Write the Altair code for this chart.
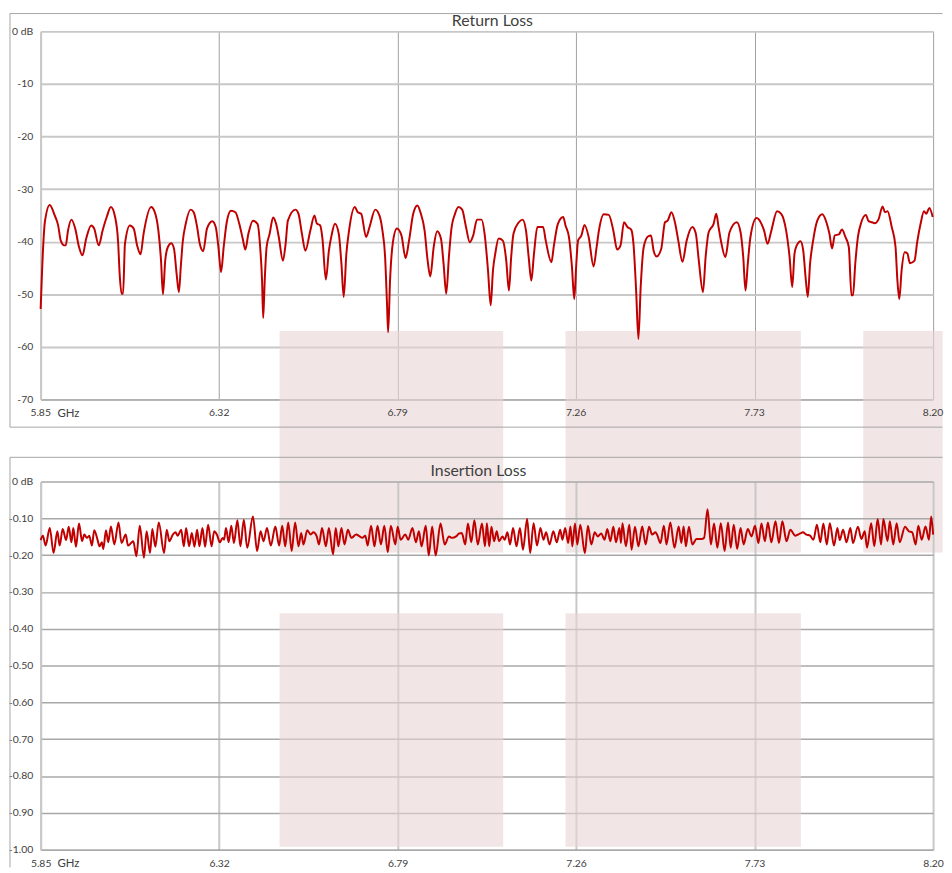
import altair as alt
import pandas as pd

# ---------------- data ----------------
x_ticks = [5.85, 6.32, 6.79, 7.26, 7.73, 8.20]
rl_ticks = [0, -10, -20, -30, -40, -50, -60, -70]
il_ticks = [0, -0.1, -0.2, -0.3, -0.4, -0.5, -0.6, -0.7, -0.8, -0.9, -1.0]

# Return loss (dB) vs frequency (GHz)
rl_ghz = [
    5.850, 5.857, 5.861, 5.874, 5.887, 5.896, 5.903, 5.912, 5.916, 5.922,
    5.931, 5.941, 5.951, 5.960, 5.970, 5.983, 5.991, 6.003, 6.013, 6.024,
    6.035, 6.046, 6.054, 6.058, 6.063, 6.067, 6.072, 6.085, 6.095, 6.104,
    6.113, 6.121, 6.141, 6.149, 6.160, 6.167, 6.172, 6.178, 6.185, 6.194,
    6.201, 6.208, 6.214, 6.219, 6.224, 6.232, 6.245, 6.253, 6.262, 6.269,
    6.278, 6.288, 6.302, 6.311, 6.318, 6.325, 6.332, 6.340, 6.351, 6.363,
    6.373, 6.382, 6.389, 6.397, 6.409, 6.421, 6.428, 6.433, 6.436, 6.440,
    6.445, 6.453, 6.462, 6.470, 6.477, 6.488, 6.495, 6.501, 6.521, 6.529,
    6.538, 6.547, 6.560, 6.571, 6.577, 6.586, 6.592, 6.601, 6.609, 6.616,
    6.625, 6.635, 6.642, 6.648, 6.655, 6.662, 6.677, 6.685, 6.694, 6.707,
    6.716, 6.731, 6.742, 6.750, 6.757, 6.762, 6.765, 6.770, 6.777, 6.788,
    6.800, 6.811, 6.820, 6.831, 6.842, 6.850, 6.861, 6.869, 6.876, 6.885,
    6.894, 6.904, 6.911, 6.918, 6.925, 6.931, 6.941, 6.950, 6.960, 6.970,
    6.980, 6.989, 6.999, 7.011, 7.019, 7.028, 7.035, 7.041, 7.047, 7.056,
    7.067, 7.076, 7.083, 7.089, 7.095, 7.108, 7.119, 7.128, 7.135, 7.142,
    7.149, 7.158, 7.173, 7.180, 7.195, 7.201, 7.212, 7.226, 7.232, 7.241,
    7.249, 7.255, 7.260, 7.265, 7.274, 7.282, 7.293, 7.306, 7.314, 7.320,
    7.333, 7.346, 7.358, 7.368, 7.377, 7.386, 7.395, 7.405, 7.411, 7.418,
    7.424, 7.430, 7.438, 7.449, 7.457, 7.464, 7.472, 7.484, 7.494, 7.501,
    7.511, 7.521, 7.529, 7.540, 7.551, 7.566, 7.575, 7.583, 7.594, 7.601,
    7.609, 7.622, 7.629, 7.635, 7.642, 7.653, 7.664, 7.683, 7.693, 7.700,
    7.706, 7.712, 7.719, 7.735, 7.748, 7.755, 7.764, 7.774, 7.789, 7.800,
    7.813, 7.822, 7.829, 7.835, 7.841, 7.851, 7.858, 7.865, 7.870, 7.876,
    7.884, 7.895, 7.908, 7.919, 7.927, 7.934, 7.941, 7.952, 7.960, 7.969,
    7.978, 7.985, 7.989, 7.995, 8.002, 8.011, 8.023, 8.030, 8.039, 8.046,
    8.056, 8.067, 8.073, 8.080, 8.091, 8.101, 8.106, 8.111, 8.117, 8.125,
    8.132, 8.139, 8.151, 8.158, 8.167, 8.176, 8.182, 8.190, 8.199,
]
rl_db = [
    -52.8, -40.4, -36.3, -33.0, -35.0, -36.9, -39.8, -40.7, -40.7, -37.9,
    -35.8, -37.5, -41.0, -42.6, -39.4, -36.9, -37.5, -40.7, -37.9, -35.3,
    -33.4, -35.3, -40.1, -46.1, -49.9, -49.9, -40.4, -36.9, -37.5, -40.7,
    -42.4, -38.5, -33.4, -34.1, -37.9, -43.6, -50.0, -43.6, -41.0, -40.3,
    -41.3, -46.1, -49.6, -44.8, -40.1, -36.6, -33.9, -34.4, -37.2, -40.4,
    -41.8, -37.5, -36.1, -37.2, -41.0, -45.8, -41.0, -36.3, -34.1, -34.4,
    -36.6, -39.4, -41.5, -38.5, -36.0, -36.6, -41.0, -47.4, -54.5, -47.4,
    -41.0, -38.5, -35.4, -36.6, -39.1, -43.6, -40.4, -36.0, -33.9, -34.7,
    -38.5, -41.7, -37.9, -35.0, -36.5, -36.9, -39.4, -47.2, -41.7, -38.8,
    -36.6, -38.5, -44.2, -50.5, -42.3, -37.9, -33.4, -34.4, -34.7, -39.1,
    -37.2, -33.9, -35.0, -37.9, -42.9, -51.8, -57.2, -47.4, -40.4, -37.5,
    -38.8, -43.1, -39.8, -34.7, -33.1, -34.4, -37.9, -43.6, -46.6, -41.0,
    -38.0, -39.4, -44.2, -49.9, -42.9, -37.9, -34.7, -33.4, -33.9, -37.2,
    -40.1, -38.8, -35.8, -35.8, -38.5, -45.5, -52.1, -45.5, -42.3, -39.4,
    -39.8, -43.6, -49.3, -42.9, -38.5, -36.4, -35.8, -37.9, -42.9, -47.4,
    -42.3, -37.2, -37.2, -39.8, -43.9, -41.0, -36.6, -35.3, -36.9, -39.1,
    -44.8, -50.9, -44.8, -39.8, -38.8, -36.8, -39.1, -44.7, -41.0, -37.9,
    -34.8, -34.9, -37.9, -41.5, -40.7, -36.3, -37.2, -37.7, -40.4, -49.3,
    -58.5, -48.6, -41.0, -39.0, -38.8, -41.7, -42.8, -41.4, -36.3, -36.0,
    -34.4, -36.6, -39.8, -43.8, -39.8, -37.2, -38.4, -43.6, -49.6, -42.9,
    -38.2, -36.6, -34.7, -37.2, -40.1, -42.9, -38.2, -36.3, -38.2, -42.9,
    -49.3, -44.2, -39.1, -35.5, -36.6, -37.9, -40.4, -37.9, -34.2, -34.7,
    -37.9, -42.9, -48.6, -42.3, -40.7, -39.9, -41.7, -47.4, -50.5, -44.2,
    -39.8, -36.0, -34.8, -36.3, -38.5, -41.3, -38.8, -38.6, -37.7, -39.1,
    -41.0, -50.2, -50.2, -44.2, -39.1, -36.3, -34.9, -36.1, -36.3, -36.5,
    -35.8, -33.3, -34.4, -34.2, -37.2, -41.0, -47.4, -50.9, -45.5, -42.0,
    -42.2, -44.1, -43.6, -40.1, -36.6, -34.2, -34.7, -33.6, -35.3,
]

# Insertion loss (dB) vs frequency (GHz)
il_ghz = [
    5.850, 5.856, 5.863, 5.874, 5.884, 5.894, 5.900, 5.908, 5.917, 5.924,
    5.931, 5.936, 5.943, 5.951, 5.959, 5.965, 5.972, 5.978, 5.985, 5.991,
    6.000, 6.005, 6.011, 6.015, 6.022, 6.028, 6.035, 6.044, 6.055, 6.063,
    6.074, 6.080, 6.088, 6.094, 6.102, 6.111, 6.122, 6.129, 6.138, 6.144,
    6.152, 6.161, 6.175, 6.182, 6.189, 6.198, 6.205, 6.211, 6.220, 6.227,
    6.233, 6.241, 6.248, 6.255, 6.262, 6.268, 6.276, 6.283, 6.291, 6.300,
    6.307, 6.314, 6.322, 6.329, 6.333, 6.338, 6.345, 6.352, 6.359, 6.368,
    6.376, 6.385, 6.394, 6.409, 6.420, 6.429, 6.437, 6.446, 6.456, 6.468,
    6.478, 6.486, 6.494, 6.502, 6.511, 6.520, 6.529, 6.536, 6.542, 6.552,
    6.561, 6.568, 6.577, 6.583, 6.591, 6.601, 6.609, 6.620, 6.627, 6.634,
    6.642, 6.650, 6.659, 6.668, 6.681, 6.690, 6.697, 6.705, 6.711, 6.720,
    6.729, 6.737, 6.746, 6.755, 6.764, 6.772, 6.784, 6.790, 6.798, 6.810,
    6.818, 6.829, 6.838, 6.846, 6.853, 6.864, 6.872, 6.881, 6.890, 6.903,
    6.914, 6.925, 6.933, 6.944, 6.952, 6.959, 6.968, 6.975, 6.984, 6.992,
    7.001, 7.012, 7.020, 7.025, 7.031, 7.037, 7.044, 7.051, 7.057, 7.066,
    7.072, 7.079, 7.086, 7.094, 7.103, 7.112, 7.120, 7.131, 7.139, 7.148,
    7.157, 7.166, 7.174, 7.181, 7.190, 7.200, 7.209, 7.218, 7.224, 7.231,
    7.239, 7.245, 7.250, 7.257, 7.263, 7.271, 7.283, 7.291, 7.300, 7.309,
    7.317, 7.326, 7.335, 7.342, 7.350, 7.358, 7.365, 7.374, 7.378, 7.382,
    7.391, 7.400, 7.406, 7.415, 7.424, 7.434, 7.443, 7.452, 7.460, 7.469,
    7.473, 7.482, 7.491, 7.498, 7.508, 7.519, 7.530, 7.537, 7.543, 7.549,
    7.557, 7.566, 7.577, 7.590, 7.597, 7.606, 7.615, 7.623, 7.632, 7.641,
    7.651, 7.660, 7.667, 7.675, 7.684, 7.693, 7.701, 7.712, 7.722, 7.731,
    7.740, 7.748, 7.757, 7.765, 7.774, 7.785, 7.794, 7.803, 7.814, 7.824,
    7.837, 7.850, 7.857, 7.866, 7.876, 7.885, 7.894, 7.903, 7.911, 7.920,
    7.928, 7.939, 7.948, 7.954, 7.963, 7.972, 7.982, 7.989, 8.002, 8.011,
    8.020, 8.026, 8.037, 8.045, 8.054, 8.063, 8.069, 8.080, 8.086, 8.095,
    8.104, 8.112, 8.126, 8.136, 8.145, 8.154, 8.161, 8.170, 8.180, 8.189,
    8.195, 8.200,
]
il_db = [
    -0.159, -0.147, -0.174, -0.126, -0.194, -0.135, -0.174, -0.129, -0.159, -0.123,
    -0.165, -0.126, -0.177, -0.114, -0.162, -0.144, -0.153, -0.147, -0.174, -0.132,
    -0.159, -0.176, -0.165, -0.183, -0.132, -0.165, -0.122, -0.171, -0.111, -0.167,
    -0.144, -0.174, -0.167, -0.162, -0.203, -0.120, -0.207, -0.135, -0.194, -0.129,
    -0.177, -0.111, -0.194, -0.131, -0.162, -0.144, -0.138, -0.147, -0.131, -0.176,
    -0.126, -0.176, -0.140, -0.177, -0.131, -0.176, -0.126, -0.177, -0.117, -0.176,
    -0.135, -0.144, -0.165, -0.153, -0.158, -0.126, -0.165, -0.120, -0.167, -0.105,
    -0.176, -0.104, -0.180, -0.095, -0.189, -0.135, -0.162, -0.126, -0.174, -0.122,
    -0.174, -0.120, -0.176, -0.111, -0.189, -0.111, -0.176, -0.140, -0.171, -0.132,
    -0.144, -0.138, -0.149, -0.171, -0.126, -0.176, -0.126, -0.198, -0.126, -0.176,
    -0.126, -0.171, -0.131, -0.153, -0.144, -0.149, -0.153, -0.147, -0.174, -0.120,
    -0.176, -0.120, -0.171, -0.120, -0.192, -0.120, -0.171, -0.123, -0.158, -0.144,
    -0.158, -0.126, -0.165, -0.135, -0.176, -0.120, -0.201, -0.122, -0.201, -0.114,
    -0.171, -0.149, -0.153, -0.149, -0.141, -0.140, -0.171, -0.114, -0.165, -0.105,
    -0.171, -0.114, -0.176, -0.113, -0.176, -0.123, -0.162, -0.135, -0.162, -0.149,
    -0.158, -0.138, -0.171, -0.126, -0.176, -0.126, -0.185, -0.102, -0.194, -0.113,
    -0.174, -0.126, -0.158, -0.138, -0.171, -0.135, -0.165, -0.131, -0.158, -0.126,
    -0.167, -0.122, -0.176, -0.114, -0.171, -0.117, -0.195, -0.120, -0.171, -0.138,
    -0.149, -0.141, -0.158, -0.129, -0.162, -0.123, -0.165, -0.126, -0.167, -0.113,
    -0.176, -0.117, -0.185, -0.123, -0.176, -0.122, -0.171, -0.123, -0.144, -0.138,
    -0.144, -0.167, -0.120, -0.171, -0.111, -0.180, -0.122, -0.167, -0.122, -0.176,
    -0.123, -0.171, -0.156, -0.156, -0.153, -0.075, -0.171, -0.114, -0.180, -0.113,
    -0.189, -0.111, -0.180, -0.117, -0.183, -0.126, -0.171, -0.129, -0.149, -0.120,
    -0.167, -0.114, -0.162, -0.111, -0.165, -0.108, -0.167, -0.108, -0.162, -0.131,
    -0.147, -0.141, -0.138, -0.144, -0.147, -0.158, -0.117, -0.165, -0.114, -0.171,
    -0.113, -0.174, -0.126, -0.159, -0.131, -0.165, -0.126, -0.167, -0.123, -0.156,
    -0.135, -0.180, -0.113, -0.176, -0.102, -0.171, -0.102, -0.162, -0.108, -0.171,
    -0.113, -0.165, -0.123, -0.135, -0.138, -0.171, -0.120, -0.158, -0.122, -0.158,
    -0.095, -0.144,
]

# light-red shaded bands (background watermark blocks), in GHz / dB
band_lo = [6.479, 7.232, 8.016]
band_hi = [7.068, 7.852, 8.225]
band_rl_top = [-57.0, -57.0, -57.0]
band_rl_bot = [-99.1, -99.1, -99.1]
band_il_lo = [6.479, 7.232]
band_il_hi = [7.068, 7.852]
band_il_top = [-0.358, -0.358]
band_il_bot = [-0.992, -0.992]

# ---------------- styling ----------------
FONT = "Lato"
TXT = "#404040"
RED = "#C00000"
PINK = "#E9D3D3"
FRAME = "#a6a6a6"
LIGHT = "#c8c8c8"
DARK = "#a0a0a0"
W = 902
H_TOP, H_BOT = 372, 372
LABEL_SIZE = 10.5

rl = pd.DataFrame({"ghz": rl_ghz, "db": rl_db})
il = pd.DataFrame({"ghz": il_ghz, "db": il_db})
ticks_df = pd.DataFrame({"t": x_ticks})
bands_rl = pd.DataFrame({"lo": band_lo, "hi": band_hi, "top": band_rl_top, "bot": band_rl_bot})
bands_il = pd.DataFrame({"lo": band_il_lo, "hi": band_il_hi, "top": band_il_top, "bot": band_il_bot})

xs = alt.Scale(domain=[5.85, 8.20], nice=False, zero=False)


def x_axis(grid_color, grid_width, show_labels, pad):
    return alt.Axis(
        values=x_ticks, format=".2f", grid=True, gridColor=grid_color,
        gridWidth=grid_width, ticks=False, tickSize=0, labels=show_labels,
        labelFlush=False, labelOverlap=False, labelPadding=pad,
        labelBaseline="middle", labelFont=FONT, labelFontSize=LABEL_SIZE,
        labelColor=TXT, domainColor=DARK, domainWidth=1,
        title="GHz", titleFont=FONT, titleFontSize=11.5, titleFontWeight="normal",
        titleColor=TXT, titleAlign="left", titleBaseline="middle",
        titleX=16.5, titleY=pad,
    )


def y_axis(vals, expr, grid_color, grid_width):
    return alt.Axis(
        values=vals, labelExpr=expr, grid=True, gridColor=grid_color,
        gridWidth=grid_width, ticks=False, tickSize=0, labelPadding=8,
        labelFont=FONT, labelFontSize=LABEL_SIZE, labelColor=TXT, labelAlign="right",
        labelOverlap=False, labelFlush=False,
        domainColor=LIGHT, domainWidth=2, title=None,
    )


one = alt.Data(values=[{}])


def hrule(y, x1, x2):
    return alt.Chart(one).mark_rule(color=FRAME, strokeWidth=1).encode(
        x=alt.value(x1), x2=alt.value(x2), y=alt.value(y))


def vrule(x, y1, y2):
    return alt.Chart(one).mark_rule(color=FRAME, strokeWidth=1).encode(
        x=alt.value(x), y=alt.value(y1), y2=alt.value(y2))


def title_text(text, x, y):
    return alt.Chart(one).mark_text(
        font=FONT, fontSize=16, color=TXT, align="center", baseline="middle"
    ).encode(x=alt.value(x), y=alt.value(y), text=alt.value(text))


def panel(df, bands, ys, h, xax, yax, title, title_x, title_y,
          frame_top, frame_bottom, closed, tick_text):
    band = alt.Chart(bands).mark_rect(color=PINK, opacity=0.6, clip=False).encode(
        x=alt.X("lo:Q", scale=xs, axis=xax), x2="hi:Q",
        y=alt.Y("top:Q", scale=ys, axis=yax), y2="bot:Q")
    line = alt.Chart(df).mark_line(color=RED, strokeWidth=2, interpolate="monotone").encode(
        x=alt.X("ghz:Q", scale=xs, axis=xax),
        y=alt.Y("db:Q", scale=ys, axis=yax))
    layers = [band, hrule(frame_top, -31, 911.5), vrule(-31, frame_top, frame_bottom)]
    if closed:
        layers.append(hrule(frame_bottom, -31, 911.5))
    layers.append(line)
    if tick_text:
        layers.append(
            alt.Chart(ticks_df).mark_text(
                font=FONT, fontSize=LABEL_SIZE, color=TXT, align="center", baseline="middle"
            ).encode(x=alt.X("t:Q", scale=xs, axis=xax), y=alt.value(h + 14),
                     text=alt.Text("t:Q", format=".2f")))
    layers.append(title_text(title, title_x, title_y))
    return alt.layer(*layers).properties(width=W, height=h)


top = panel(
    rl, bands_rl, alt.Scale(domain=[-70, 0], nice=False, zero=False), H_TOP,
    x_axis(DARK, 1, False, 14),
    y_axis(rl_ticks, "datum.value == 0 ? '0 dB' : '-' + format(-datum.value, 'd')", LIGHT, 2),
    "Return Loss", 456.5, -10.5, -18, H_TOP + 28, True, True)

bottom = panel(
    il, bands_il, alt.Scale(domain=[-1.0, 0], nice=False, zero=False), H_BOT,
    x_axis(LIGHT, 2, True, 14),
    y_axis(il_ticks, "datum.value == 0 ? '0 dB' : '-' + format(-datum.value, '.2f')", "#a8a8a8", 1.5),
    "Insertion Loss", 442.5, -10.6, -24.5, H_BOT + 18, False, False)

chart = alt.vconcat(top, bottom, spacing=83, bounds="flush").properties(
    padding=0, background="white"
).configure_view(strokeWidth=0)

chart.save("out.html", embed_options={"renderer": "svg", "actions": False})
